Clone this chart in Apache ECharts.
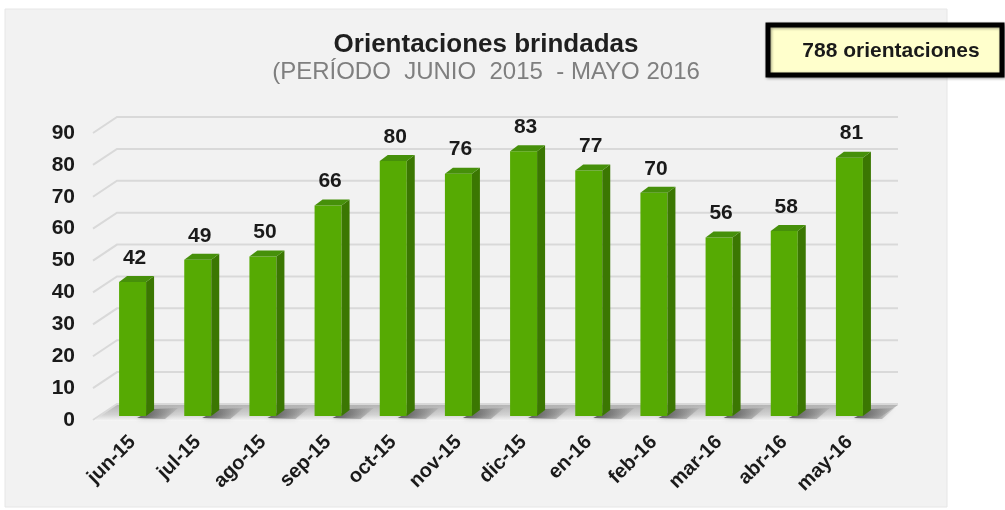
<!DOCTYPE html>
<html>
<head>
<meta charset="utf-8">
<script src="https://cdn.jsdelivr.net/npm/echarts@6/dist/echarts.min.js"></script>
<style>
  html, body { margin: 0; padding: 0; background: #fff; }
  #chart { width: 1005px; height: 510px; }
</style>
</head>
<body>
<div id="chart"></div>
<script>
// datos
var months = ["jun-15", "jul-15", "ago-15", "sep-15", "oct-15", "nov-15", "dic-15", "en-16", "feb-16", "mar-16", "abr-16", "may-16"];
var orientaciones = [42, 49, 50, 66, 80, 76, 83, 77, 70, 56, 58, 81];
var yTicks = [0, 10, 20, 30, 40, 50, 60, 70, 80, 90];
var titleText = "Orientaciones brindadas";
var subText = "(PERÍODO  JUNIO  2015  - MAYO 2016";
var totalText = "788 orientaciones";

var font = "'Liberation Sans', Arial, sans-serif";
var chart = echarts.init(document.getElementById("chart"));

// pared del fondo: lineas de la cuadricula en perspectiva
function renderWall(params, api) {
  var cs = params.coordSys;
  var y = api.coord([0, api.value(1)])[1];
  return {
    type: "polyline",
    z2: 1,
    shape: {
      points: [
        [cs.x - 7, y],
        [cs.x + 17, y - 16],
        [cs.x + cs.width + 16, y - 16]
      ]
    },
    style: { stroke: "#d9d9d9", lineWidth: 2, fill: null }
  };
}

// piso con sombra
function renderFloor(params, api) {
  var cs = params.coordSys;
  var y = api.coord([0, 0])[1];
  return {
    type: "polygon",
    shape: {
      points: [
        [cs.x - 7, y + 1],
        [cs.x + 17, y - 15],
        [cs.x + cs.width + 16, y - 15],
        [cs.x + cs.width - 7, y + 1]
      ]
    },
    style: {
      fill: new echarts.graphic.LinearGradient(0, 0, 0, 1, [
        { offset: 0, color: "#b4b4b4" },
        { offset: 0.6, color: "#d2d2d2" },
        { offset: 1, color: "#f7f7f7" }
      ])
    }
  };
}

// barras 3D
function renderBar(params, api) {
  var idx = api.value(0);
  var val = api.value(1);
  var base = api.coord([idx, 0]);
  var top = api.coord([idx, val]);
  var w = 27, d = 8, h = 6;
  var x0 = base[0] - 13.5;
  var yb = base[1] - 4;
  var yt = top[1] - 4;
  return {
    type: "group",
    children: [
      {
        type: "polygon",
        shape: { points: [[x0 + 18, yb + 2], [x0 + w + d, yb - h - 1], [x0 + w + d + 24, yb - h - 2], [x0 + 46, yb + 3]] },
        style: {
          fill: new echarts.graphic.LinearGradient(0, 0, 1, 0, [
            { offset: 0, color: "rgba(50,50,50,0.75)" },
            { offset: 1, color: "rgba(90,90,90,0.1)" }
          ]),
          shadowBlur: 5,
          shadowColor: "rgba(60,60,60,0.5)"
        }
      },
      {
        type: "rect",
        shape: { x: x0, y: yt, width: w, height: yb - yt },
        style: { fill: "#56aa03" }
      },
      {
        type: "polygon",
        shape: { points: [[x0 + w, yt], [x0 + w + d, yt - h], [x0 + w + d, yb - h], [x0 + w, yb]] },
        style: { fill: "#3b7702" }
      },
      {
        type: "polygon",
        shape: { points: [[x0, yt], [x0 + d, yt - h], [x0 + w + d, yt - h], [x0 + w, yt]] },
        style: { fill: "#46900a" }
      },
      {
        type: "text",
        style: {
          x: base[0] + 2,
          y: yt - 24,
          text: String(val),
          fill: "#1a1a1a",
          font: "bold 21px " + font,
          align: "center",
          verticalAlign: "middle"
        }
      }
    ]
  };
}

var option = {
  backgroundColor: "#ffffff",
  animation: false,
  textStyle: { fontFamily: font },
  title: {
    text: titleText,
    subtext: subText,
    left: 481,
    top: 27,
    textAlign: "center",
    itemGap: 2,
    textStyle: { fontSize: 26, fontWeight: "bold", color: "#1f1f1f", fontFamily: font },
    subtextStyle: { fontSize: 24, color: "#7f7f7f", fontFamily: font }
  },
  graphic: [
    {
      type: "rect",
      z: -10,
      shape: { x: 5, y: 9, width: 942, height: 498 },
      style: { fill: "#f2f2f2", stroke: "#e6e6e6", lineWidth: 1 }
    },
    {
      type: "rect",
      z: 10,
      shape: { x: 768, y: 25, width: 234, height: 50 },
      style: { fill: "#ffffcc", stroke: "#000000", lineWidth: 5, shadowBlur: 3, shadowColor: "rgba(0,0,0,0.4)", shadowOffsetX: 1, shadowOffsetY: 1 }
    },
    {
      type: "text",
      z: 11,
      style: {
        x: 891,
        y: 51,
        text: totalText,
        fill: "#1a1a1a",
        font: "bold 21px " + font,
        align: "center",
        verticalAlign: "middle"
      }
    }
  ],
  grid: {
    left: 100,
    right: 123,
    top: 133,
    bottom: 90,
    containLabel: false
  },
  xAxis: {
    type: "category",
    data: months,
    axisLine: { show: false },
    axisTick: { show: false },
    splitLine: { show: false },
    axisLabel: {
      rotate: 45,
      margin: 19,
      interval: 0,
      fontSize: 20,
      fontWeight: "bold",
      color: "#1a1a1a",
      fontFamily: font
    }
  },
  yAxis: {
    type: "value",
    min: 0,
    max: 90,
    interval: 10,
    axisLine: { show: false },
    axisTick: { show: false },
    splitLine: { show: false },
    axisLabel: {
      margin: 25,
      fontSize: 21,
      fontWeight: "bold",
      color: "#1a1a1a",
      fontFamily: font
    }
  },
  series: [
    {
      type: "custom",
      z: 1,
      renderItem: renderWall,
      data: yTicks.map(function (v) { return [0, v]; }),
      silent: true
    },
    {
      type: "custom",
      z: 2,
      renderItem: renderFloor,
      data: [[0, 0]],
      silent: true
    },
    {
      type: "custom",
      z: 3,
      name: "Orientaciones",
      renderItem: renderBar,
      data: orientaciones.map(function (v, i) { return [i, v]; })
    }
  ]
};

chart.setOption(option);
</script>
</body>
</html>
